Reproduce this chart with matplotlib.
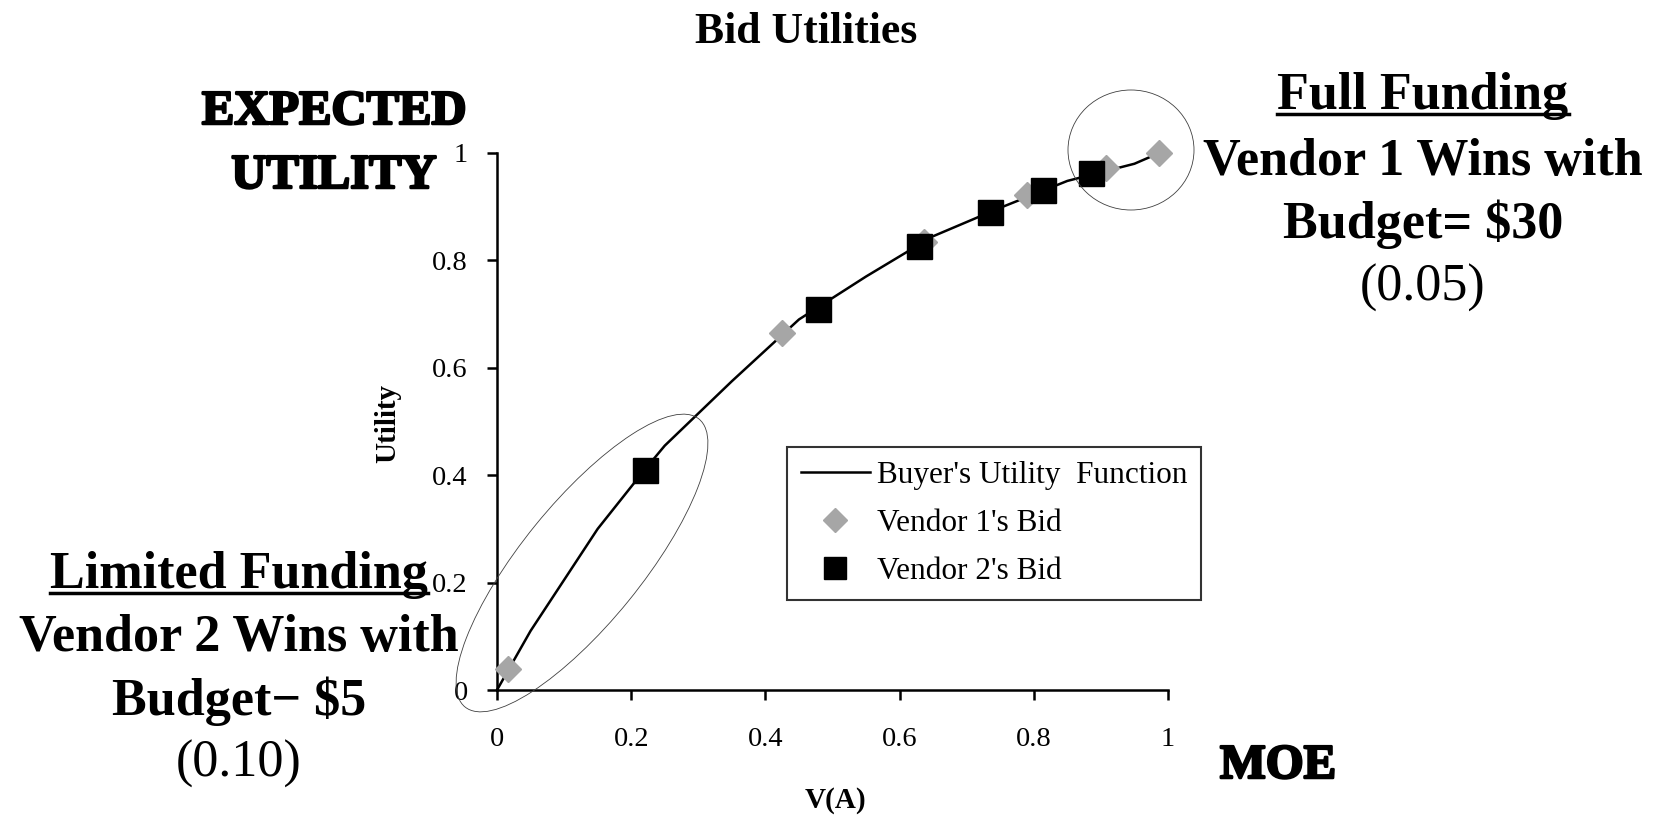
import matplotlib
matplotlib.use("Agg")
import matplotlib.pyplot as plt
from matplotlib.patches import Ellipse
from matplotlib.lines import Line2D
import matplotlib.patheffects as pe

W, H = 1653, 816

# utility function curve (V(A) vs utility)
util_x = [0, 0.05, 0.15, 0.22, 0.25, 0.35, 0.45, 0.55, 0.65, 0.75, 0.85, 0.95, 0.987]
util_y = [0, 0.11, 0.30, 0.41, 0.455, 0.575, 0.69, 0.77, 0.845, 0.898, 0.948, 0.98, 1.0]

# bids
v1_x = [0.016, 0.425, 0.637, 0.79, 0.908, 0.987]
v1_y = [0.04, 0.665, 0.835, 0.921, 0.972, 1.0]
v2_x = [0.22, 0.478, 0.629, 0.735, 0.814, 0.885]
v2_y = [0.41, 0.71, 0.827, 0.89, 0.931, 0.962]

ticks = [0, 0.2, 0.4, 0.6, 0.8, 1]
tick_labels = ["0", "0.2", "0.4", "0.6", "0.8", "1"]

right_lines = ["Full Funding", "Vendor 1 Wins with", "Budget= $30", "(0.05)"]
left_lines = ["Limited Funding", "Vendor 2 Wins with", "Budget\u2212 $5", "(0.10)"]

plt.rcParams['font.family'] = ['Liberation Serif', 'DejaVu Serif']


def fx(x):
    return x / W


def fy(y):
    return 1 - y / H


fig = plt.figure(figsize=(W / 100, H / 100), dpi=100)
ax = fig.add_axes([fx(497), fy(690), (1168 - 497) / W, (690 - 153) / H])

ax.plot(util_x, util_y, color='black', lw=1.8, label="Buyer's Utility  Function", clip_on=False, zorder=3)
ax.plot(v1_x, v1_y, ls='none', marker='D', ms=13.5, color='#a6a6a6', label="Vendor 1's Bid",
        clip_on=False, zorder=4)
ax.plot(v2_x, v2_y, ls='none', marker='s', ms=18, color='black', label="Vendor 2's Bid",
        clip_on=False, zorder=5)

ax.set_xlim(0, 1)
ax.set_ylim(0, 1)
for s in ['top', 'right']:
    ax.spines[s].set_visible(False)
for s in ['left', 'bottom']:
    ax.spines[s].set_linewidth(1.8)
ax.set_xticks(ticks)
ax.set_xticklabels(tick_labels)
ax.set_yticks(ticks)
ax.set_yticklabels(tick_labels)
ax.tick_params(direction='out', length=7, width=1.8, labelsize=20.5)
ax.tick_params(axis='x', pad=20)
ax.tick_params(axis='y', pad=14)

leg = ax.legend(loc='upper left', bbox_to_anchor=(fx(787), fy(447)), bbox_transform=fig.transFigure,
                borderaxespad=0, fontsize=22.5, frameon=True, fancybox=False, edgecolor='black',
                handlelength=2.2, handletextpad=0.22, labelspacing=0.6, borderpad=0.45,
                markerscale=0.87)
leg.get_frame().set_linewidth(1.5)

fig.text(fx(806), fy(42.7), "Bid Utilities", ha='center', va='baseline', fontsize=31.5, weight='bold')
fig.text(fx(388), fy(423), "Utility", rotation=90, ha='center', va='center', fontsize=21, weight='bold')
fig.text(fx(835), fy(800), "V(A)", ha='center', va='center', fontsize=21, weight='bold')

# heavy labels (stencil look approximated with a stroked bold serif)
heavy = [pe.withStroke(linewidth=1.8, foreground='black')]
fig.text(fx(334), fy(124), "EXPECTED", ha='center', va='baseline', fontsize=35, weight='bold',
         path_effects=heavy)
fig.text(fx(334), fy(188), "UTILITY", ha='center', va='baseline', fontsize=35, weight='bold',
         path_effects=heavy)
fig.text(fx(1278), fy(778), "MOE", ha='center', va='baseline', fontsize=35, weight='bold',
         path_effects=heavy)

# annotation blocks
texts = []
for i, (line, base) in enumerate(zip(right_lines, [108.6, 175, 238, 301])):
    t = fig.text(fx(1423), fy(base), line, ha='center', va='baseline', fontsize=37.5,
                 weight='normal' if i == 3 else 'bold')
    texts.append(t)
for i, (line, base) in enumerate(zip(left_lines, [588, 651.5, 715, 777])):
    t = fig.text(fx(239), fy(base), line, ha='center', va='baseline', fontsize=37.5,
                 weight='normal' if i == 3 else 'bold')
    texts.append(t)

# ellipses around the two winning regions
fig.add_artist(Ellipse((5.82, (H - 563) / 100), 3.71, 1.20, angle=50.9, transform=fig.dpi_scale_trans,
                       fill=False, edgecolor='#404040', lw=0.6))
fig.add_artist(Ellipse((11.31, (H - 150) / 100), 1.26, 1.20, transform=fig.dpi_scale_trans,
                       fill=False, edgecolor='#404040', lw=0.6))

# underline the headings
fig.canvas.draw()
r = fig.canvas.get_renderer()
for t in [texts[0], texts[4]]:
    bb = t.get_window_extent(r)
    base_y = t.get_position()[1] * H - 5
    fig.add_artist(Line2D([bb.x0 / W, bb.x1 / W], [base_y / H, base_y / H], transform=fig.transFigure,
                          color='black', lw=2.5))

fig.savefig("out.png", dpi=100)
